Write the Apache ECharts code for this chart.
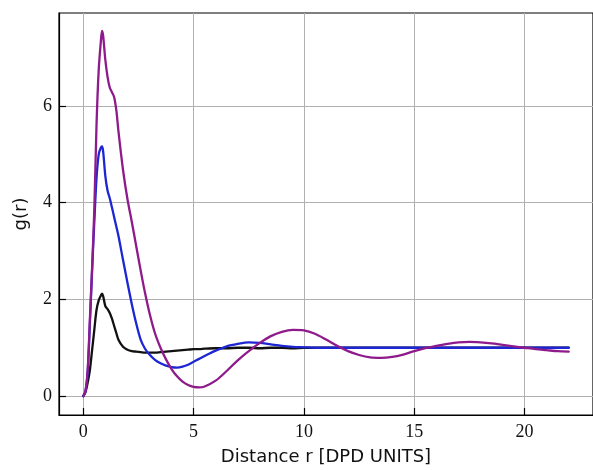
<!DOCTYPE html>
<html>
<head>
<meta charset="utf-8">
<script src="https://cdn.jsdelivr.net/npm/echarts@6/dist/echarts.min.js"></script>
<style>
  html, body { margin: 0; padding: 0; background: #fff; }
  #chart { width: 593px; height: 471px; }
</style>
</head>
<body>
<div id="chart"></div>
<script>
// Radial distribution functions g(r) for three DPD systems
const r = [0, 0.1, 0.2, 0.3, 0.4, 0.5, 0.6, 0.7, 0.8, 0.85, 0.9, 1.0, 1.1, 1.2, 1.3, 1.4, 1.5, 1.6, 1.8,
  2.0, 2.2, 2.4, 2.6, 2.8, 3.0, 3.25, 3.5, 3.75, 4.0, 4.25, 4.5, 4.75, 5.0, 5.25, 5.5, 6.0, 6.5,
  7.0, 7.5, 8.0, 8.5, 9.0, 9.5, 10.0, 10.5, 11.0, 11.5, 12.0, 12.5, 13.0, 13.5, 14.0, 14.5, 15.0,
  15.5, 16.0, 16.5, 17.0, 17.5, 18.0, 18.5, 19.0, 19.5, 20.0, 20.5, 21.0, 21.5, 22.0];

const gBlack = [0, 0.08, 0.28, 0.54, 0.95, 1.37, 1.78, 1.98, 2.08, 2.12, 2.07, 1.86, 1.8, 1.72, 1.6, 1.45, 1.3, 1.16, 1.02,
  0.96, 0.93, 0.92, 0.91, 0.9, 0.9, 0.9, 0.91, 0.92, 0.93, 0.94, 0.95, 0.96, 0.97, 0.97, 0.98, 0.99, 0.99,
  1.0, 1.0, 0.99, 1.0, 1.0, 0.99, 1.0, 1.0, 1.0, 1.0, 1.0, 1.0, 1.0, 1.0, 1.0, 1.0, 1.0,
  1.0, 1.0, 1.0, 1.0, 1.0, 1.0, 1.0, 1.0, 1.0, 1.0, 1.0, 1.0, 1.0, 1.0];

const gBlue = [0, 0.1, 0.5, 1.5, 2.6, 3.6, 4.5, 5.0, 5.14, 5.16, 5.06, 4.55, 4.25, 4.09, 3.9, 3.7, 3.5, 3.3, 2.82,
  2.35, 1.9, 1.5, 1.17, 0.98, 0.86, 0.75, 0.68, 0.63, 0.6, 0.59, 0.61, 0.65, 0.71, 0.77, 0.83, 0.94, 1.03,
  1.08, 1.11, 1.1, 1.07, 1.04, 1.02, 1.01, 1.0, 1.0, 1.0, 1.0, 1.0, 1.0, 1.0, 1.0, 1.0, 1.0,
  1.0, 1.0, 1.0, 1.0, 1.0, 1.0, 1.0, 1.0, 1.0, 1.0, 1.0, 1.0, 1.0, 1.0];

const gPurple = [0, 0.1, 0.54, 1.6, 2.65, 3.85, 5.6, 6.75, 7.35, 7.55, 7.45, 6.95, 6.6, 6.38, 6.28, 6.18, 5.9, 5.45, 4.68,
  4.08, 3.6, 3.1, 2.6, 2.13, 1.72, 1.3, 1.0, 0.76, 0.56, 0.41, 0.3, 0.23, 0.19, 0.18, 0.2, 0.32, 0.52,
  0.74, 0.93, 1.1, 1.24, 1.33, 1.37, 1.36, 1.29, 1.17, 1.04, 0.93, 0.85, 0.8, 0.79, 0.81, 0.86, 0.93,
  0.99, 1.04, 1.08, 1.11, 1.12, 1.11, 1.09, 1.06, 1.03, 1.0, 0.97, 0.95, 0.93, 0.92];

const xTicks = [0, 5, 10, 15, 20];
const yTicks = [0, 2, 4, 6];

const pairs = g => r.map((x, i) => [x, g[i]]);

const chart = echarts.init(document.getElementById('chart'), null, { renderer: 'canvas' });

const tickFont = { fontFamily: '"Liberation Serif", "DejaVu Serif", serif', fontSize: 18, color: '#111' };
const nameFont = { fontFamily: '"DejaVu Sans", sans-serif', fontSize: 18, color: '#111' };

const lineSeries = (g, color) => ({
  type: 'line',
  data: pairs(g),
  showSymbol: false,
  smooth: 0.3,
  lineStyle: { color: color, width: 2.3, join: 'round', cap: 'round' },
  animation: false
});

chart.setOption({
  backgroundColor: '#fff',
  animation: false,
  grid: {
    left: 59, top: 13, width: 538, height: 402,
    show: true, borderColor: '#000', borderWidth: 1.2, backgroundColor: 'transparent'
  },
  xAxis: {
    type: 'value',
    min: -1.1, max: 23.1,
    name: 'Distance r [DPD UNITS]',
    nameLocation: 'middle',
    nameGap: 33,
    nameTextStyle: nameFont,
    axisLine: { show: true, onZero: false, lineStyle: { color: '#000', width: 1.2 } },
    axisTick: { show: true, inside: true, length: 7, customValues: xTicks, lineStyle: { color: '#000', width: 1.2 } },
    axisLabel: Object.assign({ margin: 8, customValues: xTicks }, tickFont),
    splitLine: { show: true, lineStyle: { color: '#b0b0b0', width: 1 } }
  },
  yAxis: {
    type: 'value',
    min: -0.39, max: 7.92,
    name: 'g(r)',
    nameLocation: 'middle',
    nameGap: 29,
    nameRotate: 90,
    nameTextStyle: nameFont,
    axisLine: { show: true, onZero: false, lineStyle: { color: '#000', width: 1.2 } },
    axisTick: { show: true, inside: true, length: 7, customValues: yTicks, lineStyle: { color: '#000', width: 1.2 } },
    axisLabel: Object.assign({ margin: 7, customValues: yTicks }, tickFont),
    splitLine: { show: true, lineStyle: { color: '#b0b0b0', width: 1 } }
  },
  series: [
    lineSeries(gBlack, '#111111'),
    lineSeries(gBlue, '#1c26d2'),
    lineSeries(gPurple, '#8e1a8c')
  ]
});
</script>
</body>
</html>
